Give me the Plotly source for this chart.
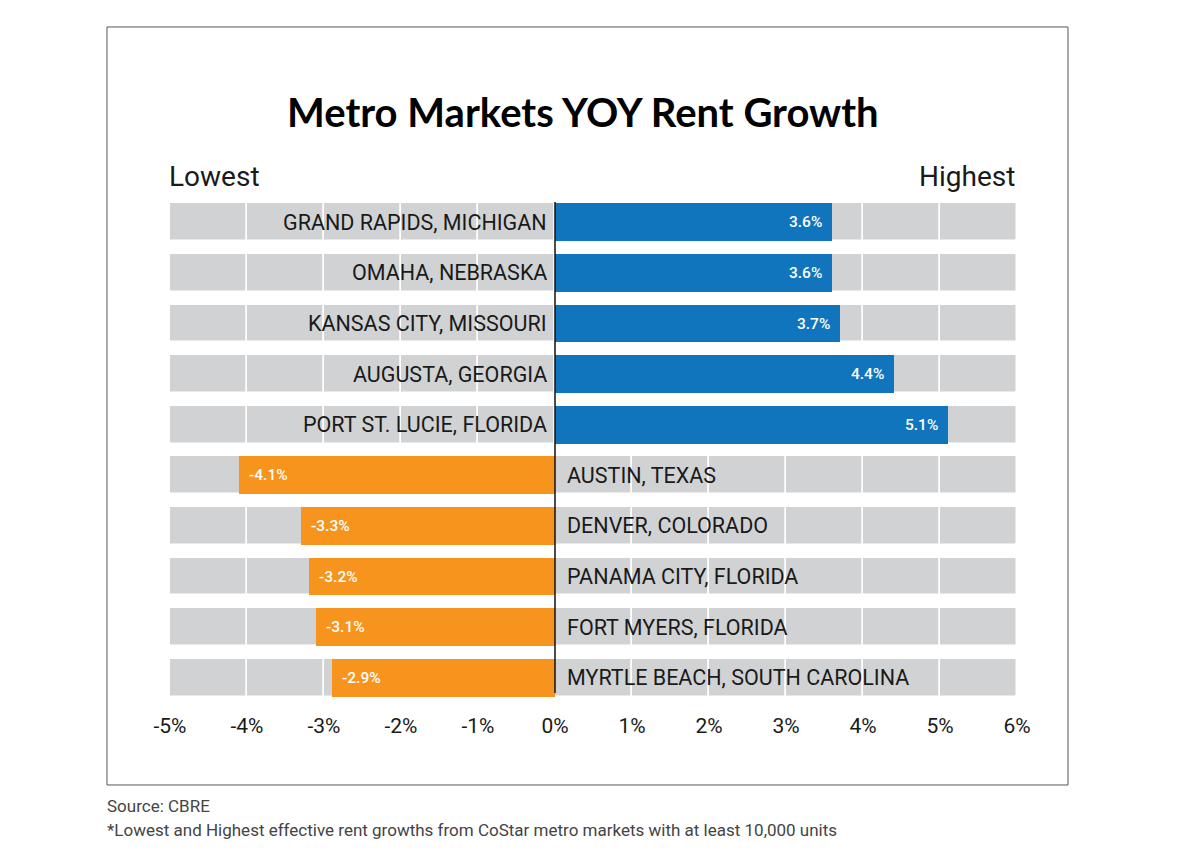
import plotly.graph_objects as go

markets = [
    "GRAND RAPIDS, MICHIGAN",
    "OMAHA, NEBRASKA",
    "KANSAS CITY, MISSOURI",
    "AUGUSTA, GEORGIA",
    "PORT ST. LUCIE, FLORIDA",
    "AUSTIN, TEXAS",
    "DENVER, COLORADO",
    "PANAMA CITY, FLORIDA",
    "FORT MYERS, FLORIDA",
    "MYRTLE BEACH, SOUTH CAROLINA",
]
growth = [3.6, 3.6, 3.7, 4.4, 5.1, -4.1, -3.3, -3.2, -3.1, -2.9]
tick_vals = [-5, -4, -3, -2, -1, 0, 1, 2, 3, 4, 5, 6]
tick_text = ["-5%", "-4%", "-3%", "-2%", "-1%", "0%", "1%", "2%", "3%", "4%", "5%", "6%"]

BLUE = "#1175bd"
ORANGE = "#f7941e"
GRAY = "#d1d2d4"
FONT = "Roboto"

fig = go.Figure()

# gray background segments (white separators act as grid lines)
for k in tick_vals[:-1]:
    fig.add_trace(go.Bar(
        y=markets, x=[1] * len(markets), base=[k] * len(markets),
        orientation="h", width=0.75,
        marker=dict(color=GRAY, line=dict(color="white", width=1.5)),
        hoverinfo="skip", showlegend=False,
    ))

colors = [BLUE if v > 0 else ORANGE for v in growth]
fig.add_trace(go.Bar(
    y=markets, x=growth, orientation="h", width=0.75,
    marker=dict(color=colors, line=dict(width=0)),
    showlegend=False,
))

annotations = []
for m, v in zip(markets, growth):
    if v > 0:
        annotations.append(dict(x=0, y=m, xref="x", yref="y", text=m, showarrow=False,
                                xanchor="right", xshift=-6,
                                font=dict(family=FONT, size=21.5, color="#1a1a1a")))
        annotations.append(dict(x=v, y=m, xref="x", yref="y", text=f"{v:.1f}%", showarrow=False,
                                xanchor="right", xshift=-8,
                                font=dict(family=FONT, size=15.5, color="white", weight=500)))
    else:
        annotations.append(dict(x=0, y=m, xref="x", yref="y", text=m, showarrow=False,
                                xanchor="left", xshift=10,
                                font=dict(family=FONT, size=21.5, color="#1a1a1a")))
        annotations.append(dict(x=v, y=m, xref="x", yref="y", text=f"{v:.1f}%", showarrow=False,
                                xanchor="left", xshift=8,
                                font=dict(family=FONT, size=15.5, color="white", weight=500)))

annotations += [
    dict(x=0, y=1.04, xref="paper", yref="paper", text="Lowest", showarrow=False,
         xanchor="left", yanchor="middle", xshift=-3,
         font=dict(family=FONT, size=28, color="#1a1a1a")),
    dict(x=1, y=1.04, xref="paper", yref="paper", text="Highest", showarrow=False,
         xanchor="right", yanchor="middle", xshift=0,
         font=dict(family=FONT, size=28, color="#1a1a1a")),
    dict(x=-0.0744, y=-0.2036, xref="paper", yref="paper", text="Source: CBRE", showarrow=False,
         xanchor="left", yanchor="middle", xshift=-2,
         font=dict(family=FONT, size=17, color="#444444")),
    dict(x=-0.0744, y=-0.2510, xref="paper", yref="paper",
         text="*Lowest and Highest effective rent growths from CoStar metro markets with at least 10,000 units",
         showarrow=False, xanchor="left", yanchor="middle", xshift=-2,
         font=dict(family=FONT, size=17, color="#444444")),
]

shapes = [
    dict(type="rect", xref="paper", yref="paper", x0=-0.0744, x1=1.0602, y0=-0.162, y1=1.336,
         line=dict(color="#555555", width=1), fillcolor="rgba(0,0,0,0)", layer="below"),
    dict(type="line", xref="x", yref="paper", x0=0, x1=0, y0=0.02, y1=0.99,
         line=dict(color="#111111", width=1.5), layer="above"),
]

fig.update_layout(
    width=1178, height=867, autosize=False,
    margin=dict(l=162, r=169, t=189, b=172),
    paper_bgcolor="white", plot_bgcolor="white",
    barmode="overlay", bargap=0,
    title=dict(text="<b>Metro Markets YOY Rent Growth</b>", x=0.488, xref="container",
               y=0.879, yref="container", xanchor="center", yanchor="middle",
               font=dict(family="Lato", size=40, color="black", weight=900)),
    xaxis=dict(range=[-5, 6], tickvals=tick_vals, ticktext=tick_text, showgrid=False,
               zeroline=False, showline=False, ticks="", ticklabelstandoff=8,
               tickfont=dict(family=FONT, size=21, color="#1a1a1a"), fixedrange=True),
    yaxis=dict(autorange="reversed", showticklabels=False, showgrid=False, zeroline=False,
               showline=False, ticks="", fixedrange=True),
    annotations=annotations,
    shapes=shapes,
)

fig.write_html("out.html")
